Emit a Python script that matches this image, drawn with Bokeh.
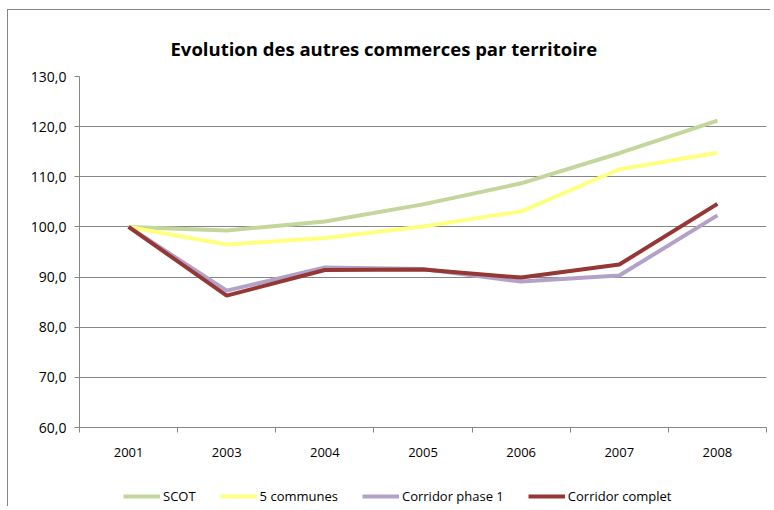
from bokeh.plotting import figure
from bokeh.layouts import column
from bokeh.models import FixedTicker, Legend, LegendItem, Range1d, ColumnDataSource
from bokeh.embed import file_html
from bokeh.resources import INLINE

years = ["2001", "2003", "2004", "2005", "2006", "2007", "2008"]
scot = [100.0, 99.3, 101.1, 104.5, 108.7, 114.7, 121.2]
communes5 = [100.0, 96.5, 97.8, 100.1, 103.1, 111.5, 114.8]
corridor_phase1 = [100.0, 87.3, 91.9, 91.6, 89.1, 90.3, 102.3]
corridor_complet = [100.0, 86.3, 91.4, 91.5, 89.9, 92.5, 104.6]
series_names = ["SCOT", "5 communes", "Corridor phase 1", "Corridor complet"]
series_colors = ["#c3d69b", "#ffff80", "#b3a2c7", "#953735"]
y_ticks = [60, 70, 80, 90, 100, 110, 120, 130]
y_tick_labels = ["60,0", "70,0", "80,0", "90,0", "100,0", "110,0", "120,0", "130,0"]
title_text = "Evolution des autres commerces par territoire"

FONT = "Open Sans"
GRID = "#868686"

xpos = [i + 0.5 for i in range(len(years))]
all_series = [scot, communes5, corridor_phase1, corridor_complet]

p = figure(width=762, height=460, output_backend="svg", toolbar_location=None,
           x_range=Range1d(0, len(years)), y_range=Range1d(60, 130),
           min_border_left=71, min_border_right=4, min_border_top=66, min_border_bottom=43)

p.title.text = title_text
p.title.text_font = FONT
p.title.text_font_size = "18.5px"
p.title.text_font_style = "bold"
p.title.align = "left"
p.title.offset = 91
p.title.standoff = 32
p.title.text_color = "#000000"

p.outline_line_color = None
p.background_fill_color = "white"
p.border_fill_color = "white"

# x axis
p.xaxis.ticker = FixedTicker(ticks=xpos, minor_ticks=list(range(len(years) + 1)))
p.xaxis.major_label_overrides = {x: y for x, y in zip(xpos, years)}
p.xaxis.major_tick_line_color = None
p.xaxis.major_tick_out = 0
p.xaxis.major_tick_in = 0
p.xaxis.minor_tick_out = 5
p.xaxis.minor_tick_in = 0
p.xaxis.minor_tick_line_color = GRID
p.xaxis.axis_line_color = GRID
p.xaxis.major_label_standoff = 15
p.xaxis.major_label_text_font = FONT
p.xaxis.major_label_text_font_size = "13px"
p.xaxis.major_label_text_color = "#000000"
p.xgrid.grid_line_color = None

# y axis
p.yaxis.ticker = FixedTicker(ticks=y_ticks, minor_ticks=[])
p.yaxis.major_label_overrides = {t: l for t, l in zip(y_ticks, y_tick_labels)}
p.yaxis.major_tick_out = 5
p.yaxis.major_tick_in = 0
p.yaxis.major_tick_line_color = GRID
p.yaxis.minor_tick_line_color = None
p.yaxis.axis_line_color = GRID
p.yaxis.major_label_standoff = 8
p.yaxis.major_label_text_font = FONT
p.yaxis.major_label_text_font_size = "14px"
p.yaxis.major_label_text_color = "#000000"
p.ygrid.grid_line_color = GRID
p.ygrid.grid_line_width = 1

for vals, col in zip(all_series, series_colors):
    src = ColumnDataSource(dict(x=xpos, y=vals))
    p.line("x", "y", source=src, line_color=col, line_width=4)

# legend row (separate strip below the chart); its lines fall outside its own range
lf = figure(width=762, height=36, output_backend="svg", toolbar_location=None,
            x_range=p.x_range, y_range=Range1d(0, 1),
            x_axis_location=None, y_axis_location=None,
            min_border_left=71, min_border_right=4, min_border_top=0, min_border_bottom=0)
lf.outline_line_color = None
lf.grid.grid_line_color = None
lf.border_fill_color = "white"

items = []
for name, vals, col in zip(series_names, all_series, series_colors):
    r = lf.line(x=xpos, y=vals, line_color=col, line_width=4)
    items.append(LegendItem(label=name, renderers=[r]))

legend = Legend(items=items, orientation="horizontal", location=(44, 1),
                glyph_width=37, glyph_height=10, label_height=14, label_standoff=3, spacing=24,
                padding=0, margin=0, border_line_color=None, background_fill_alpha=0,
                label_text_font=FONT, label_text_font_size="13px", label_text_color="#000000")
lf.add_layout(legend, "center")

layout = column(p, lf, spacing=0)
layout.styles = {"margin-left": "7px", "margin-top": "9px",
                 "border-left": "1px solid #868686", "border-top": "1px solid #868686"}

open("out.html", "w").write(file_html(layout, INLINE))
